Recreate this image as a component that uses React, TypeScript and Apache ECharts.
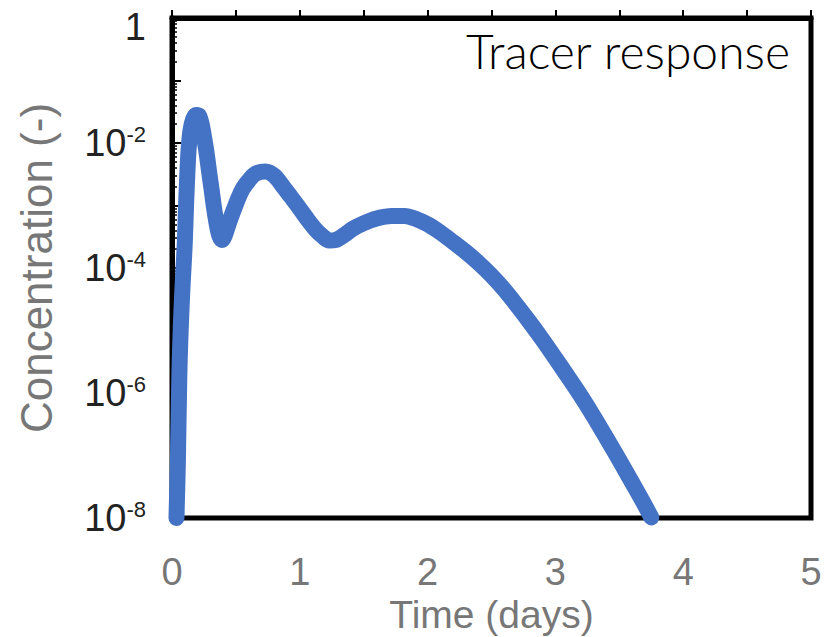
import React, { useEffect, useRef } from "react";
import * as echarts from "echarts";

// Time (days)
const times = [
  0.035, 0.045, 0.05, 0.055, 0.06, 0.07, 0.08, 0.09, 0.1, 0.11, 0.12, 0.13, 0.145, 0.165, 0.19, 0.21,
  0.23, 0.25, 0.27, 0.29, 0.31, 0.33, 0.35, 0.37, 0.39, 0.41, 0.45, 0.5, 0.55, 0.6, 0.65, 0.73,
  0.8, 0.87, 0.93, 1.0, 1.06, 1.12, 1.18, 1.23, 1.28, 1.35, 1.42, 1.5, 1.6, 1.72, 1.82, 1.9,
  2.0, 2.1, 2.2, 2.3, 2.4, 2.5, 2.6, 2.7, 2.8, 2.9, 3.0, 3.1, 3.2, 3.3, 3.4, 3.5, 3.6, 3.7, 3.75,
];
// Concentration (-)
const concentrations = [
  1.0e-8, 6.3e-8, 2.5e-7, 1.0e-6, 3.2e-6, 1.3e-5, 4.0e-5, 1.0e-4, 2.5e-4, 1.0e-3, 3.2e-3, 7.9e-3,
  1.6e-2, 2.4e-2, 2.8e-2, 2.75e-2, 2.1e-2, 1.26e-2, 7.1e-3, 3.5e-3, 1.8e-3, 8.9e-4, 5.0e-4, 3.3e-4,
  2.8e-4, 3.2e-4, 5.6e-4, 1.05e-3, 1.8e-3, 2.5e-3, 3.2e-3, 3.5e-3,
  3.0e-3, 2.0e-3, 1.38e-3, 8.9e-4, 6.0e-4, 4.2e-4, 3.2e-4, 2.75e-4, 2.8e-4, 3.4e-4, 4.3e-4, 5.2e-4,
  6.2e-4, 6.8e-4, 6.8e-4, 6.2e-4,
  5.0e-4, 3.7e-4, 2.6e-4, 1.8e-4, 1.2e-4, 7.6e-5, 4.5e-5, 2.5e-5, 1.35e-5, 7.1e-6, 3.6e-6, 1.8e-6,
  8.9e-7, 4.2e-7, 1.9e-7, 8.5e-8, 3.7e-8, 1.6e-8, 1.02e-8,
];

const xTickLabels = ["0", "1", "2", "3", "4", "5"];
const yLabelExponents = [0, -2, -4, -6, -8];
const minorMultipliers = [2, 3, 4, 5, 6, 7, 8, 9];
const decades = [-8, -7, -6, -5, -4, -3, -2, -1];

export default function App() {
  const ref = useRef<HTMLDivElement>(null);
  useEffect(() => {
    if (!ref.current) return;
    const chart = echarts.init(ref.current, undefined, { renderer: "svg" });
    const data = times.map((t, i) => [t, concentrations[i]]);
    const minorTickValues: number[] = [];
    decades.forEach((d) => minorMultipliers.forEach((m) => minorTickValues.push(Math.log10(m) + d)));
    const labelFont = "'Liberation Sans', Arial, sans-serif";
    chart.setOption({
      animation: false,
      backgroundColor: "#ffffff",
      title: {
        text: "Tracer response",
        right: 33,
        top: 21,
        textStyle: { fontFamily: "Lato", fontSize: 48, fontWeight: 300, color: "#000" },
      },
      grid: {
        left: 172,
        right: 18,
        top: 18,
        bottom: 119,
        show: true,
        borderColor: "#000",
        borderWidth: 5,
        outerBoundsMode: "none",
      },
      xAxis: {
        type: "value",
        min: 0,
        max: 5,
        interval: 1,
        name: "Time (days)",
        nameLocation: "middle",
        nameGap: 77,
        nameMoveOverlap: false,
        nameTextStyle: {
          fontFamily: labelFont,
          fontSize: 39,
          lineHeight: 38,
          color: "#777",
          verticalAlign: "top",
        },
        axisLine: { show: true, lineStyle: { color: "#000", width: 5 } },
        axisTick: { show: true, inside: true, length: 8, lineStyle: { color: "#000", width: 2 } },
        minorTick: { show: true, splitNumber: 2, length: 8, lineStyle: { color: "#000", width: 2 } },
        splitLine: { show: false },
        axisLabel: {
          margin: 37,
          fontFamily: labelFont,
          fontSize: 38,
          lineHeight: 34,
          color: "#777",
          formatter: (v: number) => xTickLabels[Math.round(v)] ?? "",
        },
      },
      yAxis: [
        {
          type: "log",
          logBase: 10,
          min: 1e-8,
          max: 1,
          interval: 1,
          name: "Concentration (-)",
          nameLocation: "middle",
          nameRotate: 90,
          nameGap: 114,
          nameMoveOverlap: false,
          nameTextStyle: { fontFamily: labelFont, fontSize: 44, color: "#777" },
          axisLine: { show: true, lineStyle: { color: "#000", width: 5 } },
          axisTick: { show: true, inside: true, length: 9, lineStyle: { color: "#000", width: 2 } },
          splitLine: { show: false },
          axisLabel: {
            margin: 26,
            fontFamily: labelFont,
            fontSize: 38,
            color: "#222",
            formatter: (v: number) => {
              const e = Math.round(Math.log10(v));
              if (!yLabelExponents.includes(e)) return "";
              if (e === 0) return "{t|1}";
              return "{b|10}{s|" + e + "}";
            },
            rich: {
              t: { fontFamily: labelFont, fontSize: 38, color: "#222", padding: [18, 0, 0, 0] },
              b: { fontFamily: labelFont, fontSize: 38, color: "#222" },
              s: { fontFamily: labelFont, fontSize: 22, color: "#222", padding: [0, 0, 18, 0] },
            },
          },
        },
        {
          type: "value",
          min: -8,
          max: 0,
          position: "left",
          axisLine: { show: false },
          axisLabel: { show: false },
          splitLine: { show: false },
          axisTick: {
            show: true,
            inside: true,
            length: 5,
            customValues: minorTickValues,
            lineStyle: { color: "#000", width: 1.5 },
          },
        },
      ],
      series: [
        {
          type: "line",
          data,
          yAxisIndex: 0,
          showSymbol: false,
          smooth: 0.3,
          clip: true,
          lineStyle: { color: "#4472C4", width: 16, cap: "round", join: "round" },
        },
      ],
    });
    return () => chart.dispose();
  }, []);
  return (
    <div
      ref={ref}
      style={{ position: "fixed", left: 0, top: 0, width: 829, height: 637, background: "#fff" }}
    />
  );
}
